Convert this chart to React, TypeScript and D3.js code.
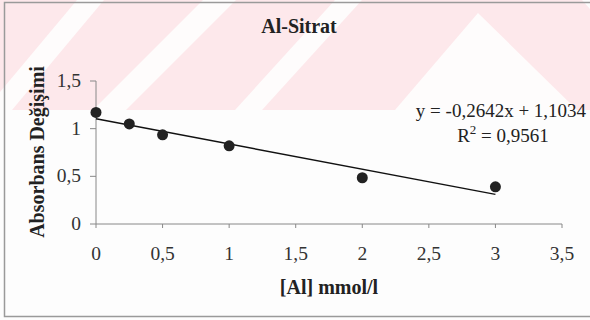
import React from "react";
import * as d3 from "d3";

const concentrations = [0, 0.25, 0.5, 1, 2, 3];
const absorbanceChange = [1.17, 1.05, 0.935, 0.82, 0.485, 0.39];
const xTicks = [0, 0.5, 1, 1.5, 2, 2.5, 3, 3.5];
const yTicks = [0, 0.5, 1, 1.5];
const slope = -0.2642;
const intercept = 1.1034;
const trendRange = [0, 3];
const title = "Al-Sitrat";
const xTitle = "[Al] mmol/l";
const yTitle = "Absorbans Değişimi";
const equation = "y = -0,2642x + 1,1034";
const r2Value = "0,9561";

const W = 590;
const H = 320;
const fmt = (v: number) => String(v).replace(".", ",");

export default function App() {
  const x = d3.scaleLinear().domain([0, 3.5]).range([96, 562]);
  const y = d3.scaleLinear().domain([0, 1.5]).range([224, 81]);
  const line = d3
    .line<number>()
    .x((d) => x(d))
    .y((d) => y(slope * d + intercept));
  const font = "'Liberation Serif', 'Times New Roman', serif";
  const pts = concentrations.map((c, i) => ({ c, v: absorbanceChange[i] }));

  // watermark stripes (scan artifact)
  const whiteBands = [
    "77,0 104,0 12,110 -15,110",
    "203,0 236,0 126,110 93,110",
    "335,0 362,0 262,110 235,110",
    "478,13 395,110 577,110",
    "582,0 600,0 600,20",
  ];

  return (
    <svg
      width={W}
      height={H}
      style={{ position: "absolute", left: 0, top: 0, background: "#fff" }}
      fontFamily={font}
    >
      <rect x={0} y={0} width={W} height={H} fill="#fdfdfd" />
      <g>
        <rect x={0} y={0} width={W} height={110} fill="#fde8eb" />
        {whiteBands.map((p, i) => (
          <polygon key={i} points={p} fill="#fefcfc" />
        ))}
      </g>
      <rect x={4.5} y={2.5} width={620} height={314} fill="none" stroke="#9a9a9a" strokeWidth={1.5} />

      <text x={299} y={33} textAnchor="middle" fontSize={20} fontWeight="bold" fill="#222">
        {title}
      </text>

      {/* axes */}
      <line x1={x(0)} x2={x(0)} y1={y(1.5)} y2={y(0)} stroke="#888" />
      <line x1={x(0)} x2={x(3.5)} y1={y(0)} y2={y(0)} stroke="#888" />
      {yTicks.map((t) => (
        <g key={"y" + t}>
          <line x1={x(0) - 6} x2={x(0)} y1={y(t)} y2={y(t)} stroke="#888" />
          <text x={x(0) - 15} y={y(t) + 6} textAnchor="end" fontSize={19.5} fill="#333">
            {fmt(t)}
          </text>
        </g>
      ))}
      {xTicks.map((t) => (
        <g key={"x" + t}>
          <line x1={x(t)} x2={x(t)} y1={y(0)} y2={y(0) + 4} stroke="#888" />
          <text x={x(t)} y={y(0) + 36} textAnchor="middle" fontSize={19.5} fill="#333">
            {fmt(t)}
          </text>
        </g>
      ))}

      <text x={329} y={294} textAnchor="middle" fontSize={20} fontWeight="bold" fill="#222">
        {xTitle}
      </text>
      <text
        transform={`translate(44,${152}) rotate(-90)`}
        textAnchor="middle"
        fontSize={20}
        fontWeight="bold"
        fill="#222"
      >
        {yTitle}
      </text>

      <path d={line(trendRange) || ""} fill="none" stroke="#111" strokeWidth={1.4} />
      {pts.map((p, i) => (
        <circle key={i} cx={x(p.c)} cy={y(p.v)} r={5.5} fill="#222" />
      ))}

      <text x={501} y={117} textAnchor="middle" fontSize={19} fill="#222">
        {equation}
      </text>
      <text x={503} y={142} textAnchor="middle" fontSize={19} fill="#222">
        R<tspan dy={-8} fontSize={13}>2</tspan>
        <tspan dy={8}> = {r2Value}</tspan>
      </text>
    </svg>
  );
}
